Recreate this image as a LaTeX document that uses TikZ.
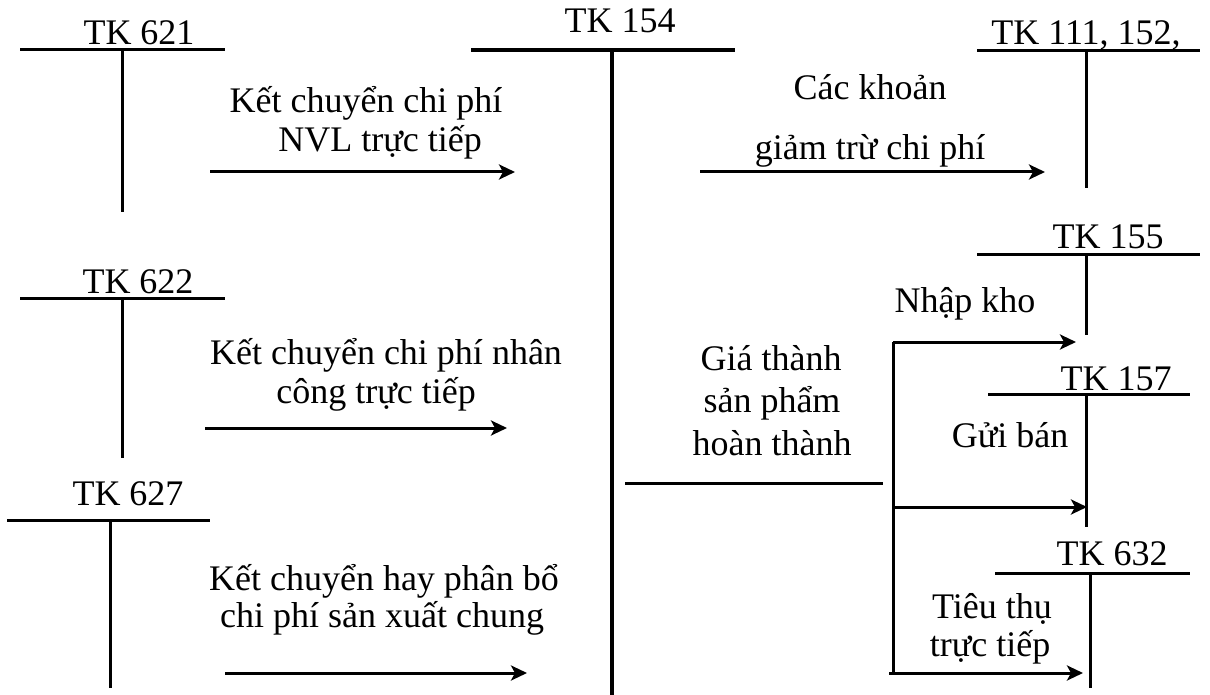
\documentclass[tikz,border=0pt]{standalone}
\usepackage{fontspec}
\setmainfont{Liberation Serif}
\usetikzlibrary{arrows.meta}
\begin{document}
\begin{tikzpicture}[x=1pt,y=-1pt,
  lbl/.style={inner sep=0pt, anchor=base, font=\fontsize{36}{40}\selectfont},
  tline/.style={line width=3pt},
  mainline/.style={line width=4.4pt},
  arr/.style={-{Stealth[length=16pt,width=15pt,inset=4pt]}, line width=3pt}]
\useasboundingbox (0,0) rectangle (1210,695);

% TK 621
\node[lbl] (t621) at (139,45) {TK 621};
\coordinate (a621l) at (20,50); \coordinate (a621r) at (225,50);
\coordinate (a621t) at (122,50); \coordinate (a621b) at (122,212);
\draw[tline] (a621l) -- (a621r); \draw[tline] (a621t) -- (a621b);

% TK 622
\node[lbl] (t622) at (138,293) {TK 622};
\coordinate (a622l) at (20,298); \coordinate (a622r) at (225,298);
\coordinate (a622t) at (122,298); \coordinate (a622b) at (122,458);
\draw[tline] (a622l) -- (a622r); \draw[tline] (a622t) -- (a622b);

% TK 627
\node[lbl] (t627) at (128,505) {TK 627};
\coordinate (a627l) at (7,520); \coordinate (a627r) at (210,520);
\coordinate (a627t) at (110,520); \coordinate (a627b) at (110,688);
\draw[tline] (a627l) -- (a627r); \draw[tline] (a627t) -- (a627b);

% TK 154
\node[lbl] (t154) at (620,33) {TK 154};
\coordinate (a154l) at (471,50); \coordinate (a154r) at (735,50);
\coordinate (a154t) at (612,50); \coordinate (a154b) at (612,695);
\draw[mainline] (a154l) -- (a154r); \draw[mainline] (a154t) -- (a154b);

% TK 111, 152,
\node[lbl] (t111) at (1086,45) {TK 111, 152,};
\coordinate (a111l) at (977,51); \coordinate (a111r) at (1200,51);
\coordinate (a111t) at (1086,51); \coordinate (a111b) at (1086,188);
\draw[tline] (a111l) -- (a111r); \draw[tline] (a111t) -- (a111b);

% TK 155
\node[lbl] (t155) at (1108,248) {TK 155};
\coordinate (a155l) at (977,254); \coordinate (a155r) at (1200,254);
\coordinate (a155t) at (1086,254); \coordinate (a155b) at (1086,335);
\draw[tline] (a155l) -- (a155r); \draw[tline] (a155t) -- (a155b);

% TK 157
\node[lbl] (t157) at (1116,390) {TK 157};
\coordinate (a157l) at (988,394); \coordinate (a157r) at (1190,394);
\coordinate (a157t) at (1086,394); \coordinate (a157b) at (1086,527);
\draw[tline] (a157l) -- (a157r); \draw[tline] (a157t) -- (a157b);

% TK 632
\node[lbl] (t632) at (1112,565) {TK 632};
\coordinate (a632l) at (995,573); \coordinate (a632r) at (1190,573);
\coordinate (a632t) at (1090,573); \coordinate (a632b) at (1090,688);
\draw[tline] (a632l) -- (a632r); \draw[tline] (a632t) -- (a632b);

% Arrow 621 -> 154
\node[lbl] (l1a) at (366,113) {Kết chuyển chi phí};
\node[lbl] (l1b) at (380,152) {NVL trực tiếp};
\coordinate (e1s) at (210,172); \coordinate (e1e) at (515,172);
\draw[arr] (e1s) -- (e1e);

% Arrow 622 -> 154
\node[lbl] (l2a) at (386,364) {Kết chuyển chi phí nhân};
\node[lbl] (l2b) at (376,403) {công trực tiếp};
\coordinate (e2s) at (205,428); \coordinate (e2e) at (507,428);
\draw[arr] (e2s) -- (e2e);

% Arrow 627 -> 154
\node[lbl] (l3a) at (384,590) {Kết chuyển hay phân bổ};
\node[lbl] (l3b) at (382,627) {chi phí sản xuất chung};
\coordinate (e3s) at (225,673); \coordinate (e3e) at (527,673);
\draw[arr] (e3s) -- (e3e);

% Arrow 154 -> 111
\node[lbl] (l4a) at (870,100) {Các khoản};
\node[lbl] (l4b) at (870,160) {giảm trừ chi phí};
\coordinate (e4s) at (700,172); \coordinate (e4e) at (1045,172);
\draw[arr] (e4s) -- (e4e);

% Giá thành sản phẩm hoàn thành
\node[lbl] (g1) at (771,370) {Giá thành};
\node[lbl] (g2) at (772,412) {sản phẩm};
\node[lbl] (g3) at (772,455) {hoàn thành};
\coordinate (gs) at (625,483); \coordinate (ge) at (883,483);
\draw[tline] (gs) -- (ge);

% Bracket and branches
\coordinate (b1) at (893,342); \coordinate (b2) at (893,507); \coordinate (b3) at (893,673);
\coordinate (b3x) at (889,673);
\draw[tline] (b1) -- (b3);
\coordinate (n1e) at (1076,342); \coordinate (n2e) at (1087,507); \coordinate (n3e) at (1083,673);
\draw[arr] (b1) -- (n1e);
\draw[arr] (b2) -- (n2e);
\draw[arr] (b3x) -- (n3e);
\node[lbl] (nk) at (965,312) {Nhập kho};
\node[lbl] (gb) at (1010,447) {Gửi bán};
\node[lbl] (tt1) at (992,618) {Tiêu thụ};
\node[lbl] (tt2) at (990,656) {trực tiếp};
\end{tikzpicture}
\end{document}
